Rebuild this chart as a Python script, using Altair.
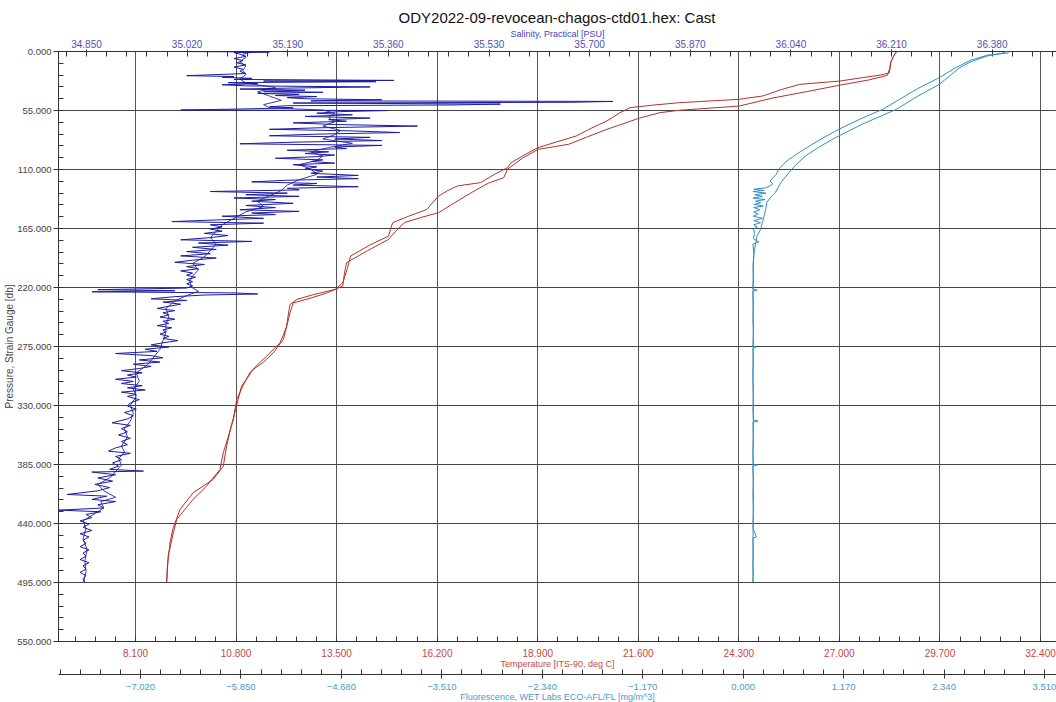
import altair as alt
import pandas as pd

TITLE = "ODY2022-09-revocean-chagos-ctd01.hex: Cast"
FONT = "Liberation Sans"

# ---- axis tick labels / domains ----
sal_ticks = [34.85, 35.02, 35.19, 35.36, 35.53, 35.70, 35.87, 36.04, 36.21, 36.38]
temp_ticks = [8.1, 10.8, 13.5, 16.2, 18.9, 21.6, 24.3, 27.0, 29.7, 32.4]
fl_ticks = [-7.02, -5.85, -4.68, -3.51, -2.34, -1.17, 0.0, 1.17, 2.34, 3.51]
p_ticks = [0, 55, 110, 165, 220, 275, 330, 385, 440, 495, 550]

sal_domain = [34.8027, 36.4887]
temp_domain = [6.032, 32.83]
fl_domain = [-7.975, 3.650]
p_domain = [0, 550]

# ---- series: (pressure [db], value) ----
sal_down = [
    (0.5, 35.02), (1.0, 35.16), (1.5, 35.10), (3, 35.11), (5, 35.12), (7, 35.10), (9, 35.115),
    (11, 35.105), (13, 35.12), (15, 35.10), (17, 35.115), (19, 35.11), (21, 35.12), (23, 35.02),
    (23.8, 35.10), (24.5, 35.08), (25.5, 35.13), (26.5, 35.10), (27.4, 35.37), (28, 35.15),
    (28.6, 35.34), (29.5, 35.09), (30.5, 35.14), (31.5, 35.08), (32.5, 35.12), (33.5, 35.33),
    (34.5, 35.20), (35.5, 35.11), (36.5, 35.22), (37.5, 35.15), (38.5, 35.25), (39.5, 35.14),
    (40.5, 35.21), (41.5, 35.17), (42.5, 35.24), (43.5, 35.19), (44.5, 35.22), (45.5, 35.35),
    (46.5, 35.23), (47, 35.74), (47.8, 35.67), (48.5, 35.20), (49.5, 35.55), (50.3, 35.47),
    (51, 35.19), (52, 35.16), (53, 35.20), (54.2, 35.10), (55, 35.01), (55.5, 35.36),
    (56.5, 35.28), (58, 35.24), (59.5, 35.30), (61, 35.22), (62.5, 35.33), (64, 35.26),
    (65.5, 35.29), (67, 35.20), (68.5, 35.27), (70, 35.41), (71.5, 35.25), (73, 35.16),
    (74.5, 35.30), (76, 35.38), (77.5, 35.24), (79, 35.16), (80.5, 35.33), (82, 35.27),
    (83.5, 35.35), (85, 35.20), (86.5, 35.11), (88, 35.35), (89.5, 35.27), (91, 35.29),
    (92.5, 35.19), (94, 35.26), (95.5, 35.22), (97, 35.27), (98.5, 35.24), (100, 35.17),
    (101.5, 35.25), (103, 35.23), (104.5, 35.27), (106, 35.20), (108, 35.24), (110, 35.22),
    (112, 35.25), (114, 35.23), (116, 35.31), (117.5, 35.24), (119, 35.31), (120.5, 35.19),
    (122, 35.13), (123.5, 35.24), (125, 35.20), (126.5, 35.31), (128, 35.19), (129.5, 35.21),
    (131, 35.06), (132.5, 35.19), (134, 35.12), (135.5, 35.21), (137, 35.10), (138.5, 35.17),
    (140, 35.13), (142, 35.20), (144, 35.12), (146, 35.17), (148, 35.11), (149.5, 35.21),
    (151, 35.13), (152.5, 35.17), (154, 35.08), (156, 35.15), (157.5, 35.07), (159, 34.995),
    (160.5, 35.15), (162, 35.06), (164, 35.08), (166, 35.06), (168, 35.08), (170, 35.05),
    (172, 35.09), (174, 35.06), (176, 35.01), (177.5, 35.13), (179, 35.04), (181, 35.09),
    (183, 35.03), (185, 35.07), (187, 35.02), (189, 35.06), (191, 35.01), (193, 35.07),
    (195, 35.03), (197, 35.00), (199, 35.05), (201, 35.02), (203, 35.04), (205, 35.01),
    (207, 35.03), (209, 35.02), (211, 35.035), (213, 35.02), (215, 35.03), (217, 35.02),
    (219, 35.03), (221, 35.02), (222.5, 34.87), (223.5, 35.00), (224.5, 34.86), (225.5, 35.10),
    (226.5, 35.14), (227.5, 35.05), (229, 35.00), (231, 34.96), (232.5, 35.02), (234, 34.98),
    (236, 35.01), (238, 34.99), (240, 34.97), (242, 35.00), (244, 34.98), (246, 34.99),
    (248, 34.975), (250, 35.00), (252, 34.98), (254, 34.99), (256, 34.97), (258, 34.995),
    (260, 34.98), (262, 34.985), (264, 34.975), (266, 34.99), (268, 34.98), (270, 35.005),
    (272, 34.98), (274, 34.96), (276, 34.99), (278, 34.95), (280, 34.97), (282, 34.90),
    (284, 34.96), (286, 34.98), (288, 34.94), (290, 34.975), (292, 34.93), (294, 34.96),
    (296, 34.94), (298, 34.91), (300, 34.945), (302, 34.92), (304, 34.935), (306, 34.90),
    (308, 34.93), (310, 34.91), (312, 34.945), (314, 34.92), (316, 34.95), (318, 34.91),
    (320, 34.935), (322, 34.92), (325, 34.94), (328, 34.925), (331, 34.92), (334, 34.935),
    (337, 34.915), (340, 34.93), (343, 34.92), (346.6, 34.894), (349, 34.925), (352, 34.91),
    (355, 34.92), (358, 34.905), (361, 34.925), (364, 34.91), (367, 34.92), (370, 34.90),
    (373, 34.888), (375, 34.925), (378, 34.90), (381, 34.91), (384, 34.895), (387, 34.905),
    (390, 34.89), (391.6, 34.947), (392.5, 34.86), (395, 34.90), (398, 34.87), (401, 34.895),
    (404, 34.865), (407, 34.89), (410, 34.87), (413.4, 34.818), (415, 34.885), (418, 34.86),
    (420, 34.90), (423, 34.87), (426, 34.88), (428, 34.804), (429.5, 34.875), (432, 34.85),
    (435, 34.86), (438, 34.84), (441, 34.855), (444, 34.845), (447, 34.86), (450, 34.84),
    (453, 34.855), (456, 34.845), (459, 34.85), (462, 34.84), (465, 34.855), (468, 34.845),
    (471, 34.85), (474, 34.84), (477, 34.855), (480, 34.845), (483, 34.85), (486, 34.84),
    (489, 34.85), (492, 34.845), (495, 34.848),
]

sal_up = [
    (495, 34.846), (485, 34.85), (475, 34.848), (465, 34.852), (455, 34.845), (445, 34.85),
    (438, 34.845), (433, 34.86), (426, 34.88), (420, 34.875), (416, 34.90), (410, 34.88),
    (404, 34.87), (398, 34.89), (392, 34.90), (386, 34.91), (380, 34.905), (374, 34.915),
    (368, 34.91), (360, 34.92), (352, 34.915), (345, 34.925), (338, 34.93), (330, 34.925),
    (322, 34.935), (315, 34.93), (308, 34.94), (300, 34.935), (292, 34.955), (285, 34.965),
    (278, 34.975), (270, 34.98), (262, 34.985), (255, 34.985), (248, 34.99), (240, 34.985),
    (233, 35.00), (228, 35.02), (224, 35.04), (221, 35.03), (215, 35.025), (210, 35.03),
    (204, 35.04), (198, 35.03), (192, 35.05), (186, 35.06), (180, 35.07), (174, 35.06),
    (168, 35.07), (162, 35.08), (156, 35.10), (150, 35.12), (145, 35.15), (140, 35.14),
    (135, 35.16), (130, 35.18), (125, 35.19), (120, 35.21), (115, 35.24), (110, 35.23),
    (106, 35.21), (102, 35.24), (98, 35.25), (94, 35.23), (90, 35.26), (86, 35.30),
    (82, 35.25), (78, 35.27), (74, 35.28), (70, 35.25), (66, 35.27), (62, 35.26),
    (58, 35.27), (55, 35.25), (53, 35.16), (50, 35.15), (46, 35.18), (42, 35.16),
    (38, 35.14), (34, 35.17), (30, 35.12), (26, 35.11), (22, 35.12), (18, 35.115),
    (14, 35.12), (10, 35.11), (6, 35.12), (3, 35.115), (1, 35.13),
]

temp_down = [
    (0.5, 28.55), (3, 28.50), (8, 28.42), (12, 28.38), (17, 28.37), (20.5, 28.35), (22.4, 28.12),
    (25, 27.60), (28, 27.03), (31.1, 25.95), (36, 25.45), (41.9, 24.96), (45.1, 24.30),
    (48.2, 22.70), (50.5, 22.00), (52.8, 21.39), (58, 21.10), (65.2, 20.77), (72, 20.35),
    (79.2, 19.95), (85, 19.40), (90.1, 18.92), (97, 18.55), (104.1, 18.20), (108.8, 18.10),
    (115, 17.75), (122.7, 17.38), (125.8, 16.76), (130, 16.50), (135.2, 16.25), (141, 16.10),
    (147.6, 15.94), (154, 15.45), (160, 15.02), (165, 14.97), (172.5, 14.91), (181, 14.40),
    (191.1, 13.89), (203, 13.80), (216, 13.68), (222.2, 13.48), (227, 12.90), (231.5, 12.45),
    (236.4, 12.26), (245, 12.22), (256.6, 12.17), (265, 12.08), (272.1, 11.99), (284.6, 11.63),
    (292, 11.40), (300.1, 11.18), (312, 11.00), (324.9, 10.83), (343.5, 10.74), (360, 10.60),
    (374.6, 10.47), (390.1, 10.38), (405.6, 10.02), (418, 9.66), (436.6, 9.22), (449.1, 9.13),
    (470.8, 8.99), (495.6, 8.95),
]

temp_up = [
    (0.5, 28.56), (4, 28.48), (10, 28.40), (16, 28.37), (22.7, 28.30), (27, 27.80), (32, 27.00),
    (37.9, 26.13), (44, 25.20), (51.3, 24.33), (55.3, 22.71), (57.5, 22.19), (63, 21.60),
    (68, 21.20), (73, 20.77), (80, 20.25), (87, 19.74), (91.7, 18.92), (100, 18.50),
    (110.3, 18.10), (118.1, 18.00), (123, 17.60), (129, 17.28), (140, 16.75), (150.7, 16.25),
    (155, 15.80), (160, 15.33), (168, 15.10), (175.6, 14.91), (186, 14.35), (197.3, 13.78),
    (208, 13.72), (219.1, 13.68), (225.3, 13.27), (230, 12.85), (234.9, 12.35), (244.2, 12.26),
    (256, 12.18), (269, 12.08), (281.5, 11.81), (290, 11.55), (297, 11.27), (312.5, 10.96),
    (337.3, 10.78), (350, 10.68), (368.3, 10.56), (387, 10.47), (399.4, 10.20), (411.8, 9.66),
    (427.3, 9.31), (445, 9.12), (458.4, 9.04), (480, 8.97), (495.6, 8.95),
]

fl_down = [
    (0.5, 3.10), (1.9, 3.09), (3.7, 2.86), (8.4, 2.66), (16.1, 2.47), (24.9, 2.29), (35, 2.04),
    (45, 1.83), (54.4, 1.63), (63, 1.38), (73, 1.12), (80, 0.96), (87, 0.81), (94, 0.67),
    (101, 0.54), (105, 0.48), (110.3, 0.42), (115, 0.39), (121.2, 0.32), (124, 0.35),
    (127.4, 0.28), (128.9, 0.13), (130, 0.25), (131, 0.12), (132.5, 0.27), (134, 0.14),
    (135.5, 0.23), (137, 0.12), (138.5, 0.26), (140, 0.15), (141.5, 0.21), (143, 0.13),
    (144.5, 0.24), (146, 0.13), (148, 0.20), (150, 0.13), (152, 0.18), (154, 0.125),
    (156, 0.23), (158, 0.13), (160, 0.21), (162, 0.13), (164, 0.17), (166, 0.125), (170, 0.14),
    (175, 0.125), (178, 0.19), (180, 0.12), (190, 0.13), (200, 0.12), (210, 0.125), (222, 0.12),
    (223, 0.17), (224, 0.12), (235, 0.125), (250, 0.12), (262, 0.125), (275, 0.12), (276, 0.16),
    (277, 0.12), (290, 0.125), (305, 0.12), (320, 0.125), (335, 0.12), (344, 0.125), (345, 0.18),
    (346, 0.12), (360, 0.125), (375, 0.12), (385, 0.125), (386, 0.17), (387, 0.12), (400, 0.125),
    (415, 0.12), (430, 0.125), (445, 0.12), (453, 0.16), (454, 0.12), (470, 0.125), (480, 0.12),
    (490, 0.125), (495, 0.12),
]

fl_up = [
    (0.5, 3.08), (2.5, 3.00), (4.4, 2.86), (9.9, 2.66), (15.5, 2.53), (19.3, 2.47), (31.1, 2.29),
    (43, 2.02), (54.4, 1.79), (68, 1.40), (80.8, 1.08), (90, 0.88), (97.9, 0.73), (106, 0.62),
    (113.4, 0.54), (122, 0.45), (132.1, 0.38), (136, 0.33), (141.4, 0.28), (147, 0.27),
    (153.8, 0.25), (160, 0.23), (166.2, 0.21), (172, 0.17), (180, 0.15), (190, 0.13),
    (200, 0.125), (230, 0.12), (260, 0.125), (300, 0.12), (340, 0.125), (380, 0.12),
    (420, 0.125), (460, 0.12), (495, 0.12),
]

# minor tick positions (axis decoration only)
sal_minor = [round(34.816 + 0.034 * k, 3) for k in range(50)]
temp_minor = [round(6.48 + 0.54 * k, 2) for k in range(49)]
fl_minor = [round(-7.956 + 0.234 * k, 3) for k in range(50)]
p_minor = [11 * k for k in range(51)]

W, H = 998, 590
FL_OFF = 33

SAL_C, SAL_C2 = "#1c1ca2", "#3a3ab6"
TEMP_C = "#b2332c"
FL_C = "#3190c4"
AX_C = "#333333"


def frame(pairs):
    return pd.DataFrame({
        "p": [a for a, b in pairs],
        "v": [b for a, b in pairs],
        "i": list(range(len(pairs))),
    })


def lay(pairs, color, domain, xaxis, yaxis):
    return alt.Chart(frame(pairs)).mark_line(color=color, strokeWidth=1, clip=True).encode(
        x=alt.X("v:Q", scale=alt.Scale(domain=domain, nice=False, zero=False), axis=xaxis),
        y=alt.Y("p:Q", scale=alt.Scale(domain=p_domain, reverse=True, nice=False, zero=False), axis=yaxis),
        order="i:Q",
    )


common = dict(labelFont=FONT, titleFont=FONT, titleFontWeight="normal",
              domainColor=AX_C, tickColor=AX_C)

sal_axis = alt.Axis(orient="top", values=sal_ticks, format=".3f", title="Salinity, Practical [PSU]",
                    labelColor="#4f4fb8", titleColor="#4444c0", labelFontSize=10, titleFontSize=9,
                    tickSize=2, grid=False, labelPadding=0, titlePadding=1, **common)
sal_minor_axis = alt.Axis(orient="bottom", offset=-H, values=sal_minor + sal_ticks, labels=False,
                          domain=False, grid=False, tickSize=5, title=None, tickColor=AX_C)

temp_axis = alt.Axis(orient="bottom", values=temp_ticks, format=".3f", title="Temperature [ITS-90, deg C]",
                     labelColor="#c44848", titleColor="#c44848", labelFontSize=10, titleFontSize=9,
                     grid=True, gridColor="#555555", gridOpacity=1, gridWidth=1, ticks=False,
                     labelPadding=7, titlePadding=1, **common)
temp_minor_axis = alt.Axis(orient="top", offset=-H, values=temp_minor, labels=False, domain=False,
                           grid=False, tickSize=5, title=None, tickColor=AX_C)

fl_axis = alt.Axis(orient="bottom", offset=FL_OFF, values=fl_ticks, format=".3f",
                   title="Fluorescence, WET Labs ECO-AFL/FL [mg/m^3]",
                   labelColor="#4a9bd0", titleColor="#4a9bd0", labelFontSize=9.5, titleFontSize=9,
                   grid=False, tickSize=4, labelPadding=3, titlePadding=2, **common)
fl_minor_axis = alt.Axis(orient="top", offset=-(H + FL_OFF), values=fl_minor, labels=False,
                         domain=False, grid=False, tickSize=5, title=None, tickColor=AX_C)

p_axis = alt.Axis(orient="left", values=p_ticks, format=".3f", title="Pressure, Strain Gauge [db]",
                  labelColor="#444444", titleColor="#444444", labelFontSize=9.5, titleFontSize=10,
                  grid=True, gridColor="#444444", gridOpacity=1, gridWidth=1, tickSize=5,
                  labelPadding=2, titleX=-44, **common)
p_minor_axis = alt.Axis(orient="right", offset=-W, values=p_minor, labels=False, domain=False,
                        grid=False, tickSize=5, title=None, tickColor=AX_C)

layers = [
    lay(fl_up, FL_C, fl_domain, fl_minor_axis, None),
    lay(fl_down, FL_C, fl_domain, fl_axis, None),
    lay(temp_up, TEMP_C, temp_domain, temp_minor_axis, None),
    lay(temp_down, TEMP_C, temp_domain, temp_axis, None),
    lay(sal_up, SAL_C2, sal_domain, sal_minor_axis, p_minor_axis),
    lay(sal_down, SAL_C, sal_domain, sal_axis, p_axis),
]

chart = (
    alt.layer(*layers)
    .resolve_scale(x="independent")
    .resolve_axis(x="independent", y="independent")
    .properties(
        width=W,
        height=H,
        title=alt.TitleParams(TITLE, font=FONT, fontSize=15, fontWeight="normal", color="#111111",
                              anchor="middle", offset=3),
        autosize=alt.AutoSizeParams(type="none"),
        padding={"left": 58, "top": 51, "right": 0, "bottom": 61},
    )
    .configure_view(stroke=None)
    .configure(background="white")
)

chart.save("out.html", embed_options={"renderer": "svg", "actions": False})
